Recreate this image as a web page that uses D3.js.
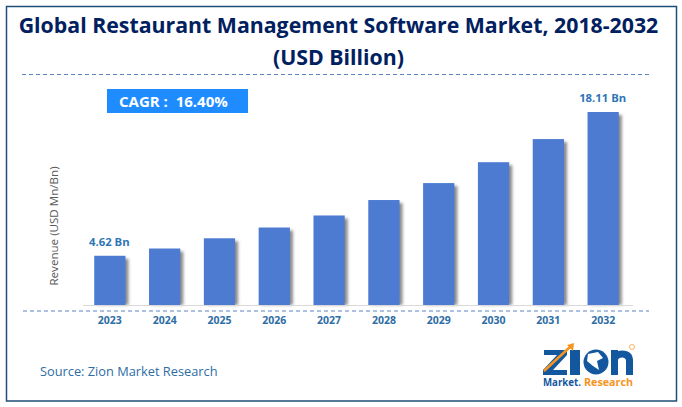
<!DOCTYPE html>
<html>
<head>
<meta charset="utf-8">
<script src="https://cdn.jsdelivr.net/npm/d3@7"></script>
<style>
  html, body { margin: 0; padding: 0; background: #fff; }
  text { font-family: "Open Sans", "Noto Sans", sans-serif; }
</style>
</head>
<body>
<div id="chart"></div>
<script>
const years = ['2023', '2024', '2025', '2026', '2027', '2028', '2029', '2030', '2031', '2032'];
const revenue = [4.62, 5.3, 6.26, 7.27, 8.4, 9.85, 11.44, 13.4, 15.57, 18.11];
const valueLabels = { 2023: '4.62 Bn', 2032: '18.11 Bn' };

const width = 682, height = 407;
const svg = d3.select('#chart').append('svg')
  .attr('width', width).attr('height', height)
  .style('display', 'block');

const defs = svg.append('defs');
const blur = defs.append('filter').attr('id', 'shadow')
  .attr('x', '-30%').attr('width', '170%');
blur.append('feGaussianBlur').attr('stdDeviation', 1.6);

// cadre
svg.append('rect')
  .attr('x', 6.5).attr('y', 6.5).attr('width', 670).attr('height', 394.5)
  .attr('fill', '#fff').attr('stroke', '#1f4e79').attr('stroke-width', 1.5);

// titre
const titleLines = ['Global Restaurant Management Software Market, 2018-2032', '(USD Billion)'];
svg.selectAll('text.title').data(titleLines).join('text')
  .attr('class', 'title')
  .attr('x', 338.5)
  .attr('y', (d, i) => 32.5 + i * 32.5)
  .attr('text-anchor', 'middle')
  .attr('font-size', 21.3)
  .attr('font-weight', 700)
  .attr('fill', '#002060')
  .text(d => d);

// lignes pointillees
[[22, 649, 74.5], [23, 649, 311]].forEach(([x1, x2, y]) => {
  svg.append('line')
    .attr('x1', x1).attr('x2', x2).attr('y1', y).attr('y2', y)
    .attr('stroke', '#5b84c4').attr('stroke-width', 1)
    .attr('stroke-dasharray', '4 3');
});

// CAGR
svg.append('rect')
  .attr('x', 107).attr('y', 89).attr('width', 141).attr('height', 24)
  .attr('fill', '#1e8bff');
svg.append('text')
  .attr('x', 119).attr('y', 107)
  .attr('font-size', 15).attr('font-weight', 700).attr('fill', '#fff')
  .attr('xml:space', 'preserve')
  .text('CAGR :  16.40%');

// echelles
const x = d3.scaleBand().domain(years).range([69, 644]).paddingInner(0.43).paddingOuter(0.46);
const y = d3.scaleLinear().domain([0, 18.11]).range([305, 112]);

const bars = svg.append('g');
bars.selectAll('rect.shadow').data(years).join('rect')
  .attr('class', 'shadow')
  .attr('x', d => x(d) + 3)
  .attr('y', (d, i) => y(revenue[i]) + 3)
  .attr('width', x.bandwidth())
  .attr('height', (d, i) => y(0) - y(revenue[i]) - 3)
  .attr('fill', '#8a8a8a')
  .attr('filter', 'url(#shadow)');
bars.selectAll('rect.bar').data(years).join('rect')
  .attr('class', 'bar')
  .attr('x', d => x(d))
  .attr('y', (d, i) => y(revenue[i]))
  .attr('width', x.bandwidth())
  .attr('height', (d, i) => y(0) - y(revenue[i]))
  .attr('fill', '#4d7bd2');

// axe
svg.append('line')
  .attr('x1', 83).attr('x2', 633).attr('y1', 305.5).attr('y2', 305.5)
  .attr('stroke', '#d9d9d9').attr('stroke-width', 1);

svg.selectAll('text.year').data(years).join('text')
  .attr('class', 'year')
  .attr('x', d => x(d) + x.bandwidth() / 2)
  .attr('y', 324)
  .attr('text-anchor', 'middle')
  .attr('font-size', 10.5).attr('font-weight', 700)
  .attr('fill', '#2e6da4')
  .text(d => d);

svg.selectAll('text.val').data(years.filter(d => valueLabels[d])).join('text')
  .attr('class', 'val')
  .attr('x', d => x(d) + x.bandwidth() / 2 - 0.5)
  .attr('y', d => y(revenue[years.indexOf(d)]) - 10)
  .attr('text-anchor', 'middle')
  .attr('font-size', 11.3).attr('font-weight', 700)
  .attr('fill', '#2e75b6')
  .text(d => valueLabels[d]);

svg.append('text')
  .attr('transform', 'translate(58,226) rotate(-90)')
  .attr('text-anchor', 'middle')
  .attr('font-size', 11.6).attr('fill', '#595959')
  .text('Revenue (USD Mn/Bn)');

svg.append('text')
  .attr('x', 40).attr('y', 376)
  .attr('font-size', 12.8).attr('fill', '#2e6da4')
  .text('Source: Zion Market Research');

// logo Zion, dessine a la main
const logo = svg.append('g');
const logoBlue = '#13589f', logoOrange = '#f7941d';
logo.append('path').attr('fill', logoBlue)
  .attr('d', 'M544 350 H567 V355 L553 370 H567 V375 H543 V370 L557 355 H544 Z');
logo.append('rect').attr('x', 570).attr('y', 350).attr('width', 10).attr('height', 25).attr('fill', logoBlue);
logo.append('path').attr('d', 'M544 371 L571 346').attr('stroke', logoOrange).attr('stroke-width', 2.5).attr('fill', 'none');
logo.append('path').attr('d', 'M567 345 L574 343 L573 351 Z').attr('fill', logoOrange);
logo.append('circle').attr('cx', 596).attr('cy', 362).attr('r', 12.5).attr('fill', logoBlue);
logo.append('path').attr('d', 'M588 354 L598 352 L603 358 L597 361 L599 370 L593 366 L587 361 Z').attr('fill', '#fff');
logo.append('path').attr('fill', 'none').attr('stroke', logoBlue).attr('stroke-width', 7)
  .attr('d', 'M614.5 375 V350 M614.5 359 Q616 354 622 354 Q629.5 354 629.5 361 V375');
logo.append('circle').attr('cx', 632).attr('cy', 347).attr('r', 2.5)
  .attr('fill', 'none').attr('stroke', logoOrange).attr('stroke-width', 0.7);
logo.append('text').attr('x', 543).attr('y', 386)
  .attr('font-size', 10).attr('font-weight', 700).attr('fill', logoBlue)
  .attr('textLength', 38).attr('lengthAdjust', 'spacingAndGlyphs').text('Market.');
logo.append('text').attr('x', 584).attr('y', 386)
  .attr('font-size', 10).attr('font-weight', 700).attr('fill', logoOrange)
  .attr('textLength', 49).attr('lengthAdjust', 'spacingAndGlyphs').text('Research');
</script>
</body>
</html>
